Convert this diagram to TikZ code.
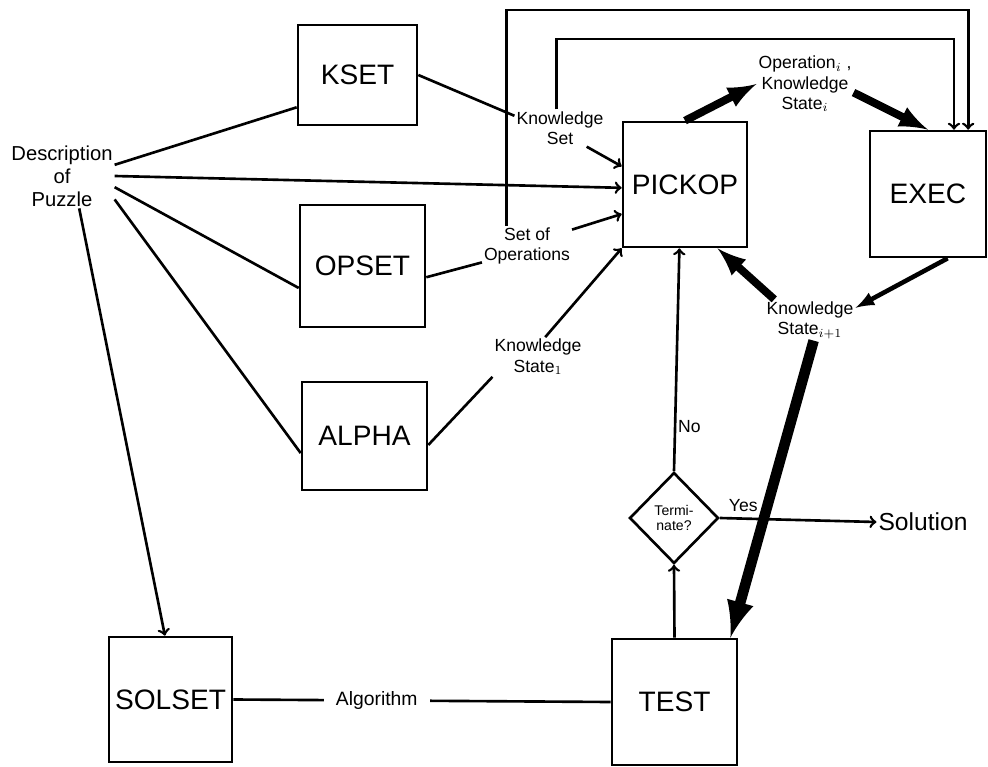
\documentclass[tikz,border=0pt]{standalone}
\usepackage{fontspec}
\setmainfont{Liberation Sans}
\usepackage{amsmath}
\usetikzlibrary{arrows}
\usetikzlibrary{shapes}

\begin{document}
\begin{tikzpicture}[x=0.02cm, y=-0.02cm,
        box/.style={draw, line width=1.5pt, inner sep=0pt, font=\fontsize{16}{18}\selectfont},
        lbl/.style={align=center, inner sep=1pt, font=\fontsize{10}{11.5}\selectfont},
        flow/.style={line width=1.5pt},
        fat/.style={line width=4.5pt, -latex}]
        \useasboundingbox (0,0) rectangle (988,767);

        \node[box, minimum width=2.38cm, minimum height=2cm] (kset) at (357.5,75) {KSET};
        \node[box, minimum width=2.5cm, minimum height=2.44cm] (opset) at (362.5,266) {OPSET};
        \node[box, minimum width=2.5cm, minimum height=2.16cm] (alpha) at (364.5,436) {ALPHA};
        \node[box, minimum width=2.48cm, minimum height=2.5cm] (pickop) at (685,184.5) {PICKOP};
        \node[box, minimum width=2.32cm, minimum height=2.52cm] (exec) at (928,194) {EXEC};
        \node[box, minimum width=2.46cm, minimum height=2.5cm] (solset) at (170.5,699.5) {SOLSET};
        \node[box, minimum width=2.5cm, minimum height=2.52cm] (test) at (674.5,702) {TEST};
        \node[draw, diamond, line width=1.5pt, inner sep=0pt, minimum width=1.78cm, minimum height=1.82cm,
            align=center, font=\fontsize{8}{8.5}\selectfont] (term) at (674,518) {Termi-\\nate?};

        \node[lbl, font=\fontsize{11.5}{13}\selectfont] (desc) at (62,176) {Description\\of\\Puzzle};
        \node[lbl] (ksl) at (560,128) {Knowledge\\Set};
        \node[lbl] (sop) at (527,246) {Set of\\Operations};
        \node[lbl] (ks1) at (538,357) {Knowledge\\State$_1$};
        \node[lbl] (osl) at (805,84) {Operation$_i$ ,\\Knowledge\\State$_i$};
        \node[lbl] (ksn) at (810,320) {Knowledge\\State$_{i+1}$};
        \node[lbl, font=\fontsize{14}{16}\selectfont] (sol) at (923,522) {Solution};

        \coordinate (innerrail) at (0,39);
        \coordinate (outerrail) at (0,10);

        \draw[flow] (desc.12) -- (kset.208);
        \draw[flow,->] (desc.0) -- (pickop.183);
        \draw[flow] (desc.-12) -- (opset.199);
        \draw[flow] (desc.-24) -- (alpha.195);
        \draw[flow,->] (desc.-62) -- (solset.95);

        \draw[flow] (kset.east) -- (ksl.165);
        \draw[flow,->] (ksl.-35) -- (pickop.164);
        \draw[flow] (opset.-10) -- (sop.200);
        \draw[flow,->] (sop.20) -- (pickop.205);
        \draw[flow] (alpha.-8) -- (ks1.south west);
        \draw[flow,->] (ks1.70) -- (pickop.south west);

        \draw[flow,->] (ksl.100) -- (ksl.100 |- innerrail) -| (exec.68);
        \draw[flow,->] (sop.135) -- (sop.135 |- outerrail) -| (exec.58);

        \draw[fat] (pickop.north) -- (osl.west);
        \draw[fat] (osl.-10) -- (exec.north);
        \draw[line width=2.6pt, -latex] (exec.-73) -- (ksn.15);
        \draw[fat] (ksn.150) -- (pickop.-63);
        \draw[line width=6pt, -latex] (ksn.-80) -- (test.49);

        \draw[flow,->] (term.north) -- node[lbl, right, pos=0.2] {No} (pickop.-95);
        \draw[flow,->] (term.east) -- node[lbl, above=2pt, pos=0.15] {Yes} (sol.west);
        \draw[flow,->] (test.north) -- (term.south);
        \draw[flow] (solset.east) -- node[lbl, fill=white, inner xsep=7pt, font=\fontsize{11}{12}\selectfont, pos=0.38] {Algorithm} (test.west);
    \end{tikzpicture}
\end{document}
